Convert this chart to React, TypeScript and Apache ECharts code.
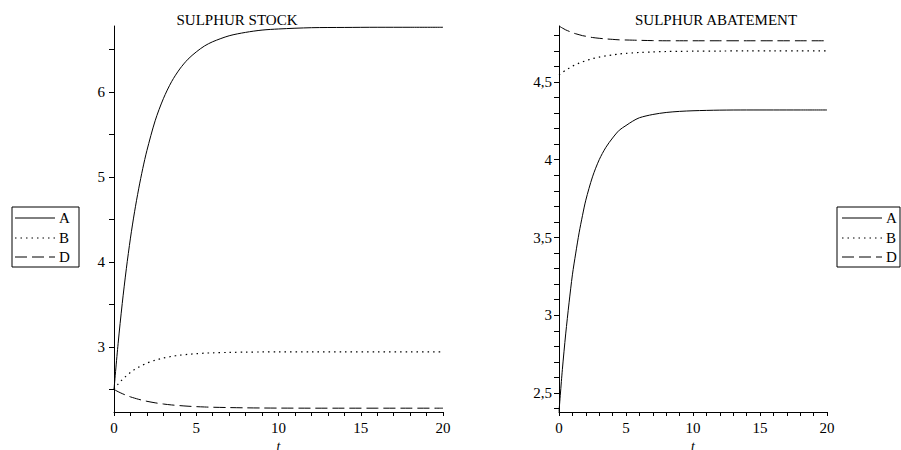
import React, { useEffect, useRef } from "react";
import * as echarts from "echarts";

const tValues = [0, 0.25, 0.5, 0.75, 1, 1.25, 1.5, 1.75, 2, 2.5, 3, 3.5, 4, 4.5, 5, 5.5, 6, 7, 8, 9, 10, 12, 14, 16, 18, 20];

// SULPHUR STOCK
const stockA = [2.5, 3.04, 3.51, 3.92, 4.28, 4.59, 4.86, 5.1, 5.31, 5.66, 5.92, 6.12, 6.27, 6.385, 6.47, 6.54, 6.59, 6.66, 6.7, 6.727, 6.74, 6.755, 6.758, 6.76, 6.76, 6.76];
const stockB = [2.5, 2.562, 2.615, 2.66, 2.7, 2.734, 2.763, 2.788, 2.81, 2.844, 2.87, 2.889, 2.903, 2.913, 2.921, 2.927, 2.931, 2.936, 2.939, 2.941, 2.942, 2.943, 2.943, 2.943, 2.943, 2.943];
const stockD = [2.5, 2.474, 2.451, 2.431, 2.413, 2.398, 2.384, 2.372, 2.361, 2.343, 2.329, 2.318, 2.31, 2.303, 2.298, 2.294, 2.291, 2.287, 2.284, 2.282, 2.281, 2.28, 2.28, 2.28, 2.28, 2.28];

// SULPHUR ABATEMENT
const abateA = [2.38, 2.65, 2.88, 3.08, 3.26, 3.4, 3.53, 3.64, 3.74, 3.89, 4.0, 4.08, 4.14, 4.19, 4.22, 4.248, 4.27, 4.291, 4.304, 4.311, 4.315, 4.319, 4.32, 4.32, 4.32, 4.32];
const abateB = [4.545, 4.561, 4.576, 4.589, 4.601, 4.612, 4.621, 4.629, 4.637, 4.65, 4.66, 4.668, 4.674, 4.68, 4.684, 4.687, 4.69, 4.693, 4.696, 4.697, 4.698, 4.699, 4.7, 4.7, 4.7, 4.7];
const abateD = [4.86, 4.847, 4.835, 4.826, 4.817, 4.81, 4.804, 4.798, 4.794, 4.786, 4.781, 4.777, 4.774, 4.771, 4.77, 4.769, 4.768, 4.766, 4.765, 4.765, 4.765, 4.765, 4.765, 4.765, 4.765, 4.765];

const xTickValues = [0, 1, 2, 3, 4, 5, 6, 7, 8, 9, 10, 11, 12, 13, 14, 15, 16, 17, 18, 19, 20];
const xLabelValues = [0, 5, 10, 15, 20];
const stockTickValues = [2.5, 3, 3.5, 4, 4.5, 5, 5.5, 6, 6.5];
const stockLabelValues = [3, 4, 5, 6];
const abateTickValues = [2.4, 2.5, 2.6, 2.7, 2.8, 2.9, 3, 3.1, 3.2, 3.3, 3.4, 3.5, 3.6, 3.7, 3.8, 3.9, 4, 4.1, 4.2, 4.3, 4.4, 4.5, 4.6, 4.7, 4.8];
const abateLabelValues = [2.5, 3, 3.5, 4, 4.5];

const legendNames = ["A", "B", "D"];

const FONT = "Liberation Serif";

const pairs = (ys: number[]) => tValues.map((t, i) => [t, ys[i]]);

const lineStyles = [
  { color: "#000", width: 1, type: "solid" as any },
  { color: "#000", width: 1.2, type: [1.5, 4] as any },
  { color: "#000", width: 1, type: [12, 5] as any },
];

const labelText = {
  fontFamily: FONT,
  fontSize: 15,
  color: "#000",
};

function xAxis(gridIndex: number) {
  return {
    type: "value",
    gridIndex,
    min: 0,
    max: 20,
    name: "t",
    nameLocation: "middle",
    nameGap: 20,
    nameTextStyle: { ...labelText, fontSize: 14, fontStyle: "italic" },
    axisLine: { show: true, onZero: false, lineStyle: { color: "#000", width: 1 } },
    axisTick: { show: true, inside: false, length: 4, customValues: xTickValues, lineStyle: { color: "#000" } },
    axisLabel: { customValues: xLabelValues, ...labelText, margin: 8 },
    splitLine: { show: false },
  };
}

function yAxis(gridIndex: number, min: number, max: number, ticks: number[], labels: number[], comma: boolean, margin: number) {
  return {
    type: "value",
    gridIndex,
    min,
    max,
    axisLine: { show: true, onZero: false, lineStyle: { color: "#000", width: 1 } },
    axisTick: { show: true, inside: false, length: 5, customValues: ticks, lineStyle: { color: "#000" } },
    axisLabel: {
      customValues: labels,
      ...labelText,
      margin,
      formatter: (v: number) => (comma ? String(v).replace(".", ",") : String(v)),
    },
    splitLine: { show: false },
  };
}

function legendGraphic(boxX: number, boxW: number, lineX1: number, lineX2: number, textX: number) {
  const rows = [218, 238, 257];
  const children: any[] = [
    {
      type: "rect",
      shape: { x: boxX, y: 207, width: boxW, height: 60 },
      style: { fill: "#fff", stroke: "#000", lineWidth: 1 },
    },
  ];
  legendNames.forEach((name, i) => {
    children.push({
      type: "line",
      shape: { x1: lineX1, y1: rows[i], x2: lineX2, y2: rows[i] },
      style: { stroke: "#000", lineWidth: lineStyles[i].width, lineDash: i === 0 ? null : lineStyles[i].type },
    });
    children.push({
      type: "text",
      x: textX,
      y: rows[i],
      style: { text: name, fontFamily: FONT, fontSize: 15, fill: "#000", verticalAlign: "middle", align: "left" },
    });
  });
  return children;
}

export default function App() {
  const ref = useRef<HTMLDivElement>(null);
  useEffect(() => {
    if (!ref.current) return;
    const chart = echarts.init(ref.current, null, { renderer: "svg" });
    const stockSets = [stockA, stockB, stockD];
    const abateSets = [abateA, abateB, abateD];
    const series: any[] = [];
    stockSets.forEach((ys, i) => {
      series.push({
        type: "line",
        name: legendNames[i],
        xAxisIndex: 0,
        yAxisIndex: 0,
        data: pairs(ys),
        showSymbol: false,
        smooth: 0.3,
        lineStyle: lineStyles[i],
      });
    });
    abateSets.forEach((ys, i) => {
      series.push({
        type: "line",
        name: legendNames[i],
        xAxisIndex: 1,
        yAxisIndex: 1,
        data: pairs(ys),
        showSymbol: false,
        smooth: 0.3,
        lineStyle: lineStyles[i],
      });
    });
    chart.setOption({
      animation: false,
      backgroundColor: "#fff",
      textStyle: { fontFamily: FONT, fontSize: 15, color: "#000" },
      title: [
        {
          text: "SULPHUR STOCK",
          left: 232,
          top: 7,
          textAlign: "center",
          textStyle: { fontFamily: FONT, fontSize: 15, fontWeight: "normal", color: "#000" },
        },
        {
          text: "SULPHUR ABATEMENT",
          left: 711,
          top: 7,
          textAlign: "center",
          textStyle: { fontFamily: FONT, fontSize: 15, fontWeight: "normal", color: "#000" },
        },
      ],
      grid: [
        { left: 114, top: 26, width: 329, height: 386, outerBoundsMode: "none", containLabel: false },
        { left: 559, top: 26, width: 268, height: 386, outerBoundsMode: "none", containLabel: false },
      ],
      xAxis: [xAxis(0), xAxis(1)],
      yAxis: [
        yAxis(0, 2.235, 6.775, stockTickValues, stockLabelValues, false, 9),
        yAxis(1, 2.378, 4.86, abateTickValues, abateLabelValues, true, 7),
      ],
      series,
      graphic: [
        ...legendGraphic(12, 67, 15, 55, 59),
        ...legendGraphic(837, 63, 842, 882, 886),
      ],
    });
    return () => chart.dispose();
  }, []);
  return (
    <div
      ref={ref}
      style={{ position: "fixed", left: 0, top: 0, width: 901, height: 450, background: "#fff" }}
    />
  );
}
